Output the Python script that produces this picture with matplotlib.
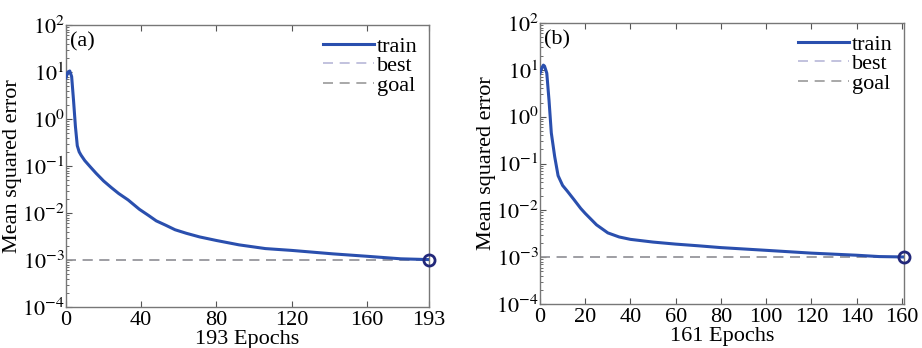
import numpy as np
import matplotlib
matplotlib.use("Agg")
import matplotlib.pyplot as plt
from matplotlib.ticker import LogLocator, FixedLocator, NullFormatter

plt.rcParams['font.family'] = ['Liberation Serif', 'DejaVu Serif']
plt.rcParams['mathtext.fontset'] = 'stix'

# Panel (a)
epochs_a = [0, 1, 2, 3, 4, 5, 6, 7, 8, 10, 13, 16, 20, 24, 28, 33, 39, 44, 48, 53, 58, 64, 71, 80, 92, 106, 120, 142, 160, 178, 193]
mse_a = [7.5, 10.0, 10.5, 8.0, 2.5, 0.7, 0.27, 0.2, 0.17, 0.13, 0.095, 0.07, 0.048, 0.035, 0.026, 0.019, 0.012, 0.0088, 0.0068, 0.0055, 0.0044, 0.0037, 0.0031, 0.0026, 0.0021, 0.00175, 0.0016, 0.00135, 0.0012, 0.00106, 0.00102]
goal_a = 0.001
best_a = 0.001
xticks_a = [0, 40, 80, 120, 160, 193]
xlabel_a = "193 Epochs"

# Panel (b)
epochs_b = [0, 1, 1.5, 2, 3, 4, 5, 6.5, 8, 10, 12, 15, 18, 20, 25, 30, 35, 40, 50, 60, 70, 80, 100, 120, 140, 150, 161]
mse_b = [8.5, 11.5, 12.6, 12.0, 8.5, 2.2, 0.45, 0.14, 0.055, 0.034, 0.026, 0.017, 0.011, 0.0086, 0.0049, 0.0033, 0.0027, 0.0024, 0.0021, 0.0019, 0.00175, 0.0016, 0.0014, 0.00122, 0.0011, 0.00103, 0.00101]
goal_b = 0.001
best_b = 0.001
xticks_b = [0, 20, 40, 60, 80, 100, 120, 140, 160]
xlabel_b = "161 Epochs"

panels = [
    ("(a)", epochs_a, mse_a, goal_a, best_a, xticks_a, xlabel_a, [66/922, 1-307/348, 363/922, 282/348]),
    ("(b)", epochs_b, mse_b, goal_b, best_b, xticks_b, xlabel_b, [540/922, 1-304/348, 364/922, 281/348]),
]

fig = plt.figure(figsize=(9.22, 3.48), dpi=100)
FS = 16
for tag, ep, mse, goal, best, xt, xl, pos in panels:
    ax = fig.add_axes(pos)
    xmax = ep[-1]
    ax.plot(ep, mse, color='#2a4fae', lw=2.2, label='train', zorder=3)
    ax.plot([0, xmax], [best, best], color='#b8b8d8', lw=1.2, ls=(0, (6, 4)), label='best', zorder=1)
    ax.plot([0, xmax], [goal, goal], color='#9a9a9a', lw=1.2, ls=(0, (6, 4)), label='goal', zorder=2)
    ax.plot([ep[-1]], [mse[-1]], marker='o', ms=8, mfc='none', mec='#22287a', mew=2, zorder=4, clip_on=False)
    ax.set_yscale('log')
    ax.set_ylim(1e-4, 1e2)
    ax.set_xlim(0, xmax)
    ax.set_xticks(xt)
    ax.set_xticklabels([str(v) for v in xt], fontsize=FS)
    ax.yaxis.set_major_locator(FixedLocator([1e-4, 1e-3, 1e-2, 1e-1, 1, 10, 100]))
    ax.set_yticklabels([r'$10^{%d}$' % k for k in range(-4, 3)], fontsize=FS)
    ax.yaxis.set_minor_locator(LogLocator(base=10, subs=np.arange(2, 10), numticks=20))
    ax.yaxis.set_minor_formatter(NullFormatter())
    ax.tick_params(which='both', direction='in', top=True, right=False, colors='#555555', labelcolor='black')
    ax.tick_params(axis='y', pad=1)
    ax.tick_params(axis='x', pad=3)
    ax.tick_params(which='major', length=4)
    ax.tick_params(which='minor', length=2)
    for s in ax.spines.values():
        s.set_color('#777777')
        s.set_linewidth(1.0)
    ax.set_xlabel(xl, fontsize=FS, labelpad=0)
    ax.set_ylabel('Mean squared error', fontsize=FS, labelpad=0)
    ax.text(0.012, 0.975, tag, transform=ax.transAxes, fontsize=FS, va='top', ha='left')
    ax.legend(loc='upper right', frameon=False, fontsize=FS, handlelength=2.3, handletextpad=0.15,
              labelspacing=-0.05, borderaxespad=0.1)

fig.savefig('out.png', dpi=100)
